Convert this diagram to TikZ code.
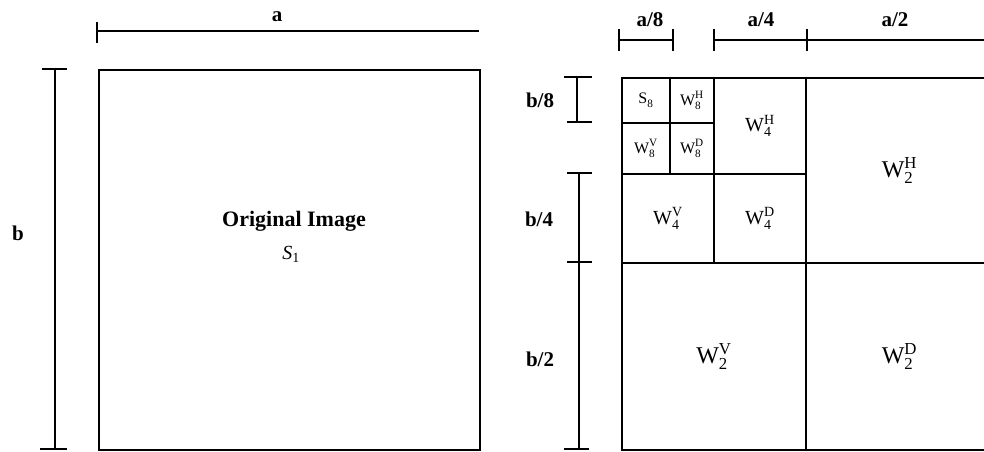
\documentclass[tikz,border=0pt]{standalone}
\usepackage{fontspec}
\setmainfont{Liberation Serif}
\usepackage{amsmath}
\newcommand{\Wsym}[3]{#1$_{\text{#2}}^{\text{#3}}$}
\begin{document}
\begin{tikzpicture}[x=1pt,y=-1pt,line width=1.8pt,
  cell/.style={draw,line width=1.8pt,inner sep=0pt,anchor=north west},
  dimlab/.style={inner sep=0pt,font=\fontsize{21}{25}\selectfont\bfseries},
  dimline/.style={line width=1.8pt},
  eightf/.style={font=\fontsize{16}{19}\selectfont},
  fourf/.style={font=\fontsize{20}{24}\selectfont},
  twof/.style={font=\fontsize{24}{29}\selectfont}]
\useasboundingbox (0,0) rectangle (984,451);
% original image
\node[cell,minimum width=381pt,minimum height=380pt] (orig) at (98,69) {};
\node[inner sep=0pt,font=\fontsize{22}{26}\selectfont\bfseries] (origt) at (294,221) {Original Image};
\node[inner sep=0pt,font=\fontsize{20}{24}\selectfont] (s1) at (291,254) {\textit{S}$_{\text{1}}$};
% decomposition grid
\node[cell,eightf,minimum width=48pt,minimum height=45pt] (s8) at (621,77) {\Wsym{S}{8}{}};
\node[cell,eightf,minimum width=44pt,minimum height=45pt] (w8h) at (669,77) {\Wsym{W}{8}{H}};
\node[cell,eightf,minimum width=48pt,minimum height=51pt] (w8v) at (621,122) {\Wsym{W}{8}{V}};
\node[cell,eightf,minimum width=44pt,minimum height=51pt] (w8d) at (669,122) {\Wsym{W}{8}{D}};
\node[cell,fourf,minimum width=92pt,minimum height=96pt] (w4h) at (713,77) {\Wsym{W}{4}{H}};
\node[cell,fourf,minimum width=92pt,minimum height=89pt] (w4v) at (621,173) {\Wsym{W}{4}{V}};
\node[cell,fourf,minimum width=92pt,minimum height=89pt] (w4d) at (713,173) {\Wsym{W}{4}{D}};
\node[cell,twof,minimum width=187pt,minimum height=185pt] (w2h) at (805,77) {\Wsym{W}{2}{H}};
\node[cell,twof,minimum width=184pt,minimum height=187pt] (w2v) at (621,262) {\Wsym{W}{2}{V}};
\node[cell,twof,minimum width=187pt,minimum height=187pt] (w2d) at (805,262) {\Wsym{W}{2}{D}};
% dimension a
\draw[dimline] (97,31) -- (479,31);
\draw[dimline] (97,22) -- (97,43);
\node[dimlab] (la) at (277,17) {a};
% dimension b
\draw[dimline] (55,69) -- (55,449);
\draw[dimline] (42,69) -- (67,69);
\draw[dimline] (40,449) -- (67,449);
\node[dimlab] (lb) at (18,233) {b};
% top right dimensions
\draw[dimline] (619,40) -- (673,40);
\draw[dimline] (619,29) -- (619,51);
\draw[dimline] (673,29) -- (673,51);
\node[dimlab] (la8) at (650,20) {a/8};
\draw[dimline] (714,40) -- (984,40);
\draw[dimline] (714,29) -- (714,51);
\draw[dimline] (807,29) -- (807,51);
\node[dimlab] (la4) at (761,20) {a/4};
\node[dimlab] (la2) at (895,20) {a/2};
% left of grid dimensions
\draw[dimline] (577,77) -- (577,122);
\draw[dimline] (564,77) -- (592,77);
\draw[dimline] (567,122) -- (592,122);
\node[dimlab] (lb8) at (540,100) {b/8};
\draw[dimline] (579,173) -- (579,449);
\draw[dimline] (567,173) -- (592,173);
\draw[dimline] (567,262) -- (592,262);
\draw[dimline] (564,449) -- (589,449);
\node[dimlab] (lb4) at (539,219) {b/4};
\node[dimlab] (lb2) at (540,359) {b/2};
\end{tikzpicture}
\end{document}
